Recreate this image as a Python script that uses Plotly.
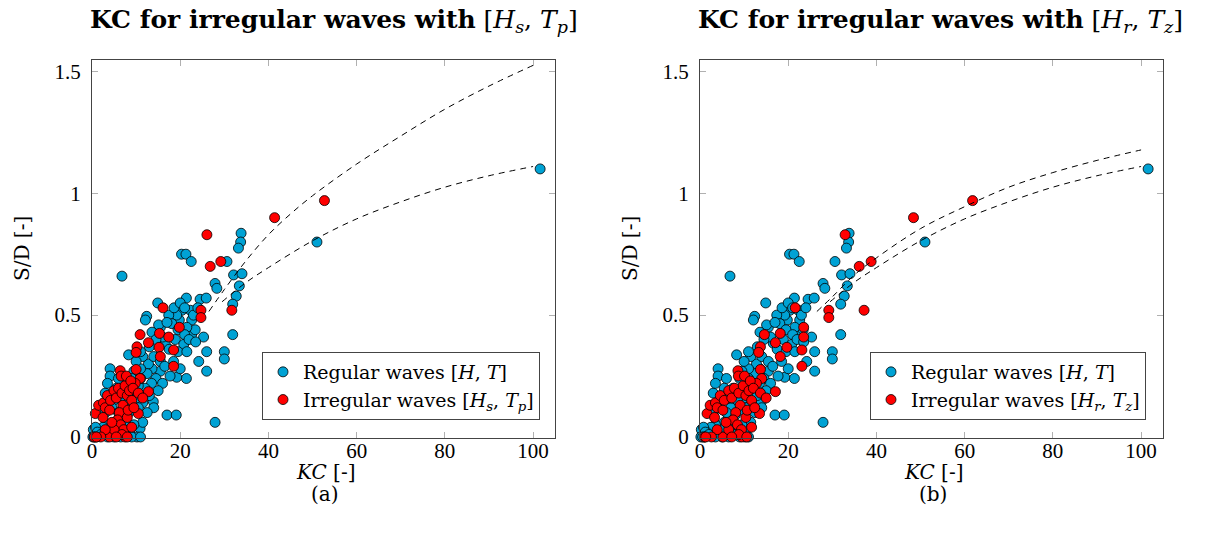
import plotly.graph_objects as go

# ---------------- data ----------------
# Regular waves [H, T] (same in both panels)
reg_kc = [101.6, 51.0, 33.8, 33.7, 33.2, 20.3, 21.3, 22.5, 6.8, 30.6, 32.1, 34.0, 27.9, 28.3, 33.4,
          32.7, 31.9, 31.9, 27.9, 24.5, 25.9, 21.4, 30.0, 30.0, 26.0, 24.2, 26.0, 25.3, 22.6, 23.4,
          22.3, 22.6, 21.5, 20.4, 19.8, 19.2, 17.4, 18.1, 18.9, 20.8, 16.6, 15.5, 14.9, 15.1, 13.6,
          12.4, 12.1, 21.4, 19.2, 17.7, 15.5, 17.0, 19.1, 13.6, 12.8, 8.3, 4.1, 4.1, 13.9, 10.9,
          10.2, 18.6, 20.0, 21.0, 23.0, 24.0, 17.0, 19.5, 21.0, 22.0, 23.5, 16.0, 17.5, 19.5, 21.5,
          14.5, 13.0, 14.0, 15.5, 16.5, 18.5, 20.0, 11.5, 12.5, 11.0, 14.5, 16.0, 13.5, 12.0, 15.0,
          13.0, 14.0, 11.5, 12.5, 10.5, 11.5, 9.5, 8.5, 9.0, 11.0, 7.5, 8.0, 9.0, 10.0, 9.5,
          10.5, 11.0, 8.5, 7.0, 6.5, 7.5, 6.0, 5.5, 5.0, 4.5, 6.0, 5.5, 4.5, 3.5, 3.0,
          3.0, 3.5, 2.5, 1.5, 1.0, 0.5, 0.3, 0.8, 0.2, 1.2, 0.6, 2.0, 6.5, 7.5, 5.0,
          3.5, 9.5, 10.0, 11.0, 9.0]
reg_sd = [1.10, 0.80, 0.836, 0.80, 0.775, 0.75, 0.75, 0.72, 0.66, 0.72, 0.665, 0.67, 0.63, 0.61, 0.62,
          0.578, 0.545, 0.42, 0.06, 0.565, 0.57, 0.57, 0.35, 0.32, 0.35, 0.31, 0.27, 0.41, 0.42, 0.44,
          0.52, 0.48, 0.45, 0.52, 0.48, 0.50, 0.50, 0.465, 0.40, 0.38, 0.385, 0.45, 0.55, 0.46, 0.43,
          0.495, 0.48, 0.24, 0.245, 0.25, 0.27, 0.09, 0.09, 0.28, 0.30, 0.337, 0.28, 0.25, 0.145, 0.035,
          0.0, 0.53, 0.55, 0.53, 0.50, 0.53, 0.47, 0.44, 0.42, 0.40, 0.39, 0.41, 0.36, 0.35, 0.35,
          0.40, 0.37, 0.33, 0.31, 0.29, 0.31, 0.28, 0.33, 0.26, 0.28, 0.24, 0.22, 0.22, 0.20, 0.19,
          0.17, 0.12, 0.14, 0.10, 0.12, 0.06, 0.05, 0.02, 0.0, 0.0, 0.05, 0.09, 0.11, 0.16, 0.19,
          0.21, 0.24, 0.15, 0.12, 0.16, 0.20, 0.24, 0.20, 0.15, 0.12, 0.10, 0.06, 0.03, 0.05, 0.10,
          0.18, 0.22, 0.04, 0.02, 0.0, 0.01, 0.03, 0.04, 0.0, 0.02, 0.0, 0.01, 0.0, 0.01, 0.0,
          0.0, 0.27, 0.31, 0.35, 0.24]

# Irregular waves, panel (a): [Hs, Tp]
irr_a_kc = [26.05, 41.4, 52.7, 29.2, 26.8, 31.7, 24.7, 24.7, 16.1, 19.8, 15.3, 10.9, 17.4, 12.8, 10.2,
            10.0, 15.2, 18.5, 15.5, 18.5, 6.4, 6.6, 10.0, 10.9, 9.8, 12.8, 10.5, 0.75, 1.5, 2.6,
            0.5, 4.0, 7.5, 3.0, 3.5, 4.2, 5.0, 5.5, 6.0, 6.8, 7.5, 8.0, 8.5, 9.0, 7.0,
            6.2, 5.8, 6.5, 7.2, 8.0, 5.0, 4.5, 3.0, 2.0, 9.0, 2.5, 4.0, 7.8, 8.8, 9.3,
            10.5, 11.5, 8.2, 1.0, 6.8, 5.5, 9.5, 8.0]
irr_a_sd = [0.83, 0.90, 0.97, 0.72, 0.70, 0.52, 0.52, 0.49, 0.53, 0.45, 0.425, 0.42, 0.41, 0.387, 0.37,
            0.347, 0.368, 0.357, 0.33, 0.29, 0.272, 0.25, 0.277, 0.24, 0.22, 0.186, 0.096, 0.096, 0.13, 0.14,
            0.0, 0.0, 0.0, 0.12, 0.17, 0.15, 0.19, 0.16, 0.20, 0.18, 0.21, 0.17, 0.19, 0.15, 0.13,
            0.10, 0.07, 0.05, 0.03, 0.08, 0.03, 0.06, 0.03, 0.0, 0.04, 0.08, 0.11, 0.25, 0.23, 0.20,
            0.18, 0.16, 0.11, 0.0, 0.01, 0.0, 0.12, 0.0]

# Irregular waves, panel (b): [Hr, Tz]
irr_b_kc = [32.9, 48.4, 61.8, 38.8, 36.1, 37.2, 29.2, 29.2, 21.6, 23.5, 18.2, 14.6, 23.5, 17.1, 13.7,
            13.3, 19.7, 23.1, 18.2, 23.1, 8.6, 8.7, 13.7, 14.0, 12.8, 17.1, 13.5, 1.6, 2.3, 3.5,
            1.0, 5.2, 9.5, 3.9, 4.6, 5.5, 6.5, 7.2, 7.8, 8.8, 9.8, 10.4, 11.1, 11.7, 9.1,
            8.1, 7.5, 8.5, 9.4, 10.4, 6.5, 5.9, 3.9, 2.6, 11.7, 3.3, 5.2, 10.1, 11.4, 12.1,
            13.7, 15.0, 10.7, 1.3, 8.8, 7.2, 12.4, 10.6]
irr_b_sd = [0.83, 0.90, 0.97, 0.72, 0.70, 0.52, 0.52, 0.49, 0.53, 0.45, 0.425, 0.42, 0.41, 0.387, 0.37,
            0.347, 0.368, 0.357, 0.33, 0.29, 0.272, 0.25, 0.277, 0.24, 0.22, 0.186, 0.096, 0.096, 0.13, 0.14,
            0.0, 0.0, 0.0, 0.12, 0.17, 0.15, 0.19, 0.16, 0.20, 0.18, 0.21, 0.17, 0.19, 0.15, 0.13,
            0.10, 0.07, 0.05, 0.03, 0.08, 0.03, 0.06, 0.03, 0.0, 0.04, 0.08, 0.11, 0.25, 0.23, 0.20,
            0.18, 0.16, 0.11, 0.0, 0.01, 0.0, 0.12, 0.0]

# Dashed fit curves
fit_a_up_kc = [26.5, 30, 35, 40, 45, 50, 60, 70, 80, 90, 100]
fit_a_up_sd = [0.515, 0.605, 0.725, 0.83, 0.915, 0.99, 1.12, 1.235, 1.345, 1.44, 1.525]
fit_low_kc = [29.5, 35, 40, 50, 60, 70, 80, 90, 100]
fit_low_sd = [0.555, 0.635, 0.695, 0.805, 0.895, 0.965, 1.025, 1.072, 1.11]
fit_b_up_kc = [26.5, 30, 35, 40, 50, 60, 70, 80, 90, 100]
fit_b_up_sd = [0.515, 0.575, 0.665, 0.735, 0.855, 0.945, 1.025, 1.085, 1.135, 1.178]

x_ticks = [0, 20, 40, 60, 80, 100]
y_ticks = [0, 0.5, 1, 1.5]
y_tick_text = ["0", "0.5", "1", "1.5"]

BLUE = "#00a2d4"
RED = "#ff0000"
TICKFONT = "Liberation Serif"
TEXTFONT = "DejaVu Serif"

fig = go.Figure()


def add_panel(xa, ya, irr_kc, irr_sd, up_kc, up_sd, irr_name, legend):
    fig.add_trace(go.Scatter(x=reg_kc, y=reg_sd, mode="markers", xaxis=xa, yaxis=ya,
                             name="Regular waves [<i>H</i>, <i>T</i>]", legend=legend,
                             cliponaxis=False,
                             marker=dict(size=10, color=BLUE, line=dict(color="black", width=0.8))))
    fig.add_trace(go.Scatter(x=irr_kc, y=irr_sd, mode="markers", xaxis=xa, yaxis=ya,
                             name=irr_name, legend=legend, cliponaxis=False,
                             marker=dict(size=10, color=RED, line=dict(color="black", width=0.8))))
    fig.add_trace(go.Scatter(x=up_kc, y=up_sd, mode="lines", xaxis=xa, yaxis=ya, showlegend=False,
                             line=dict(color="black", width=1, dash="6px,5px", shape="spline")))
    fig.add_trace(go.Scatter(x=fit_low_kc, y=fit_low_sd, mode="lines", xaxis=xa, yaxis=ya,
                             showlegend=False,
                             line=dict(color="black", width=1, dash="6px,5px", shape="spline")))


add_panel("x", "y", irr_a_kc, irr_a_sd, fit_a_up_kc, fit_a_up_sd,
          "Irregular waves [<i>H<sub>s</sub></i>, <i>T<sub>p</sub></i>]", "legend")
add_panel("x2", "y2", irr_b_kc, irr_b_sd, fit_b_up_kc, fit_b_up_sd,
          "Irregular waves [<i>H<sub>r</sub></i>, <i>T<sub>z</sub></i>]", "legend2")

W, H = 1206, 536
ydom = [(H - 437.7) / H, (H - 60) / H]


def xaxis_style(dom, anchor):
    return dict(domain=dom, anchor=anchor, range=[0, 104.9], tickvals=x_ticks, ticks="inside",
                ticklen=6, tickcolor="#b0b0b0", showline=True, linecolor="#444", linewidth=1,
                mirror="ticks", showgrid=False, zeroline=False, ticklabelstandoff=-6,
                tickfont=dict(family=TICKFONT, size=21, color="black"), automargin=False)


def yaxis_style(anchor):
    return dict(domain=ydom, anchor=anchor, range=[-0.003, 1.547], tickvals=y_ticks,
                ticktext=y_tick_text, ticks="inside", ticklen=6, tickcolor="#b0b0b0",
                showline=True, linecolor="#444", linewidth=1, mirror="ticks", showgrid=False,
                zeroline=False, ticklabelstandoff=6,
                tickfont=dict(family=TICKFONT, size=21, color="black"), automargin=False)


legend_style = dict(font=dict(family=TEXTFONT, size=19, color="black"), bgcolor="white",
                    bordercolor="#444", borderwidth=1, xanchor="left", yanchor="top")

fig.update_layout(
    width=W, height=H, margin=dict(l=0, r=0, t=0, b=0),
    paper_bgcolor="white", plot_bgcolor="white",
    font=dict(family=TEXTFONT, color="black"),
    xaxis=xaxis_style([92 / W, 554.7 / W], "y"),
    yaxis=yaxis_style("x"),
    xaxis2=xaxis_style([700 / W, 1162.7 / W], "y2"),
    yaxis2=yaxis_style("x2"),
    legend=legend_style | dict(x=262 / W, y=(H - 352) / H),
    legend2=legend_style | dict(x=870 / W, y=(H - 352) / H),
)

ann = []
for cx, sub in [(334, "[<i>H<sub>s</sub></i>, <i>T<sub>p</sub></i>]"),
                (940, "[<i>H<sub>r</sub></i>, <i>T<sub>z</sub></i>]")]:
    ann.append(dict(text="<b>KC for irregular waves with</b> " + sub, x=cx / W, y=(H - 21) / H,
                    xref="paper", yref="paper", showarrow=False, xanchor="center", yanchor="middle",
                    font=dict(family=TEXTFONT, size=25, color="black")))
for cx, lab in [(325, "(a)"), (933, "(b)")]:
    ann.append(dict(text="<i>KC</i> [-]", x=cx / W, y=(H - 472) / H, xref="paper", yref="paper",
                    showarrow=False, xanchor="center", yanchor="middle",
                    font=dict(family=TEXTFONT, size=20, color="black")))
    ann.append(dict(text=lab, x=cx / W, y=(H - 494) / H, xref="paper", yref="paper",
                    showarrow=False, xanchor="center", yanchor="middle",
                    font=dict(family=TEXTFONT, size=20, color="black")))
for cx in [22, 630]:
    ann.append(dict(text="S/D [-]", x=cx / W, y=(H - 249) / H, xref="paper", yref="paper",
                    showarrow=False, xanchor="center", yanchor="middle", textangle=-90,
                    font=dict(family=TEXTFONT, size=20, color="black")))
fig.update_layout(annotations=ann)

fig.write_html("out.html", config={"displayModeBar": False},
               post_script="document.body.style.margin='0';")
